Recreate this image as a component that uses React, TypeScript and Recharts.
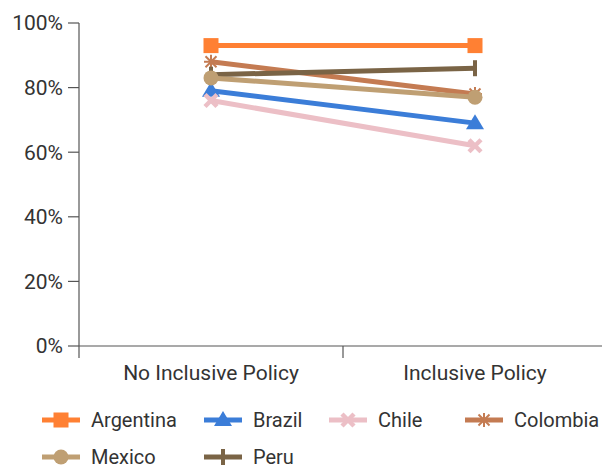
import { Line, LineChart, XAxis, YAxis } from "recharts";

const categories = ["No Inclusive Policy", "Inclusive Policy"];
const argentina = [93, 93];
const brazil = [79, 69];
const chile = [76, 62];
const colombia = [88, 78];
const mexico = [83, 77];
const peru = [84, 86];
const yTicks = [0, 20, 40, 60, 80, 100];

const FONT = "Roboto, 'DejaVu Sans', sans-serif";
const TEXT = "#333";
const AXIS = "#555";

type Marker = "square" | "triangle" | "x" | "star" | "circle" | "bar";

const series: { name: string; values: number[]; color: string; marker: Marker }[] = [
  { name: "Argentina", values: argentina, color: "#ff8033", marker: "square" },
  { name: "Brazil", values: brazil, color: "#3b7dd8", marker: "triangle" },
  { name: "Chile", values: chile, color: "#ecbfc6", marker: "x" },
  { name: "Colombia", values: colombia, color: "#c47b52", marker: "star" },
  { name: "Peru", values: peru, color: "#7a6446", marker: "bar" },
  { name: "Mexico", values: mexico, color: "#bf9f73", marker: "circle" },
];

const legendOrder = ["Argentina", "Brazil", "Chile", "Colombia", "Mexico", "Peru"];

const data = categories.map((c, i) => {
  const row: Record<string, number | string> = { x: i + 0.5, name: c };
  series.forEach((s) => (row[s.name] = s.values[i]));
  return row;
});

function MarkerShape({ cx, cy, color, marker }: { cx: number; cy: number; color: string; marker: Marker }) {
  switch (marker) {
    case "square":
      return <rect x={cx - 7.5} y={cy - 7.5} width={15} height={15} fill={color} />;
    case "triangle":
      return <polygon points={`${cx},${cy - 9} ${cx - 9},${cy + 6} ${cx + 9},${cy + 6}`} fill={color} />;
    case "x":
      return (
        <g stroke={color} strokeWidth={4.5}>
          <line x1={cx - 6} y1={cy - 6} x2={cx + 6} y2={cy + 6} />
          <line x1={cx - 6} y1={cy + 6} x2={cx + 6} y2={cy - 6} />
        </g>
      );
    case "star":
      return (
        <g stroke={color} strokeWidth={2}>
          <line x1={cx} y1={cy - 7} x2={cx} y2={cy + 7} />
          <line x1={cx - 7} y1={cy} x2={cx + 7} y2={cy} />
          <line x1={cx - 5.5} y1={cy - 5.5} x2={cx + 5.5} y2={cy + 5.5} />
          <line x1={cx - 5.5} y1={cy + 5.5} x2={cx + 5.5} y2={cy - 5.5} />
        </g>
      );
    case "circle":
      return <circle cx={cx} cy={cy} r={7.5} fill={color} />;
    case "bar":
      return <rect x={cx - 2} y={cy - 8} width={4} height={16} fill={color} />;
  }
}

function XTick(props: any) {
  const { x, y, payload } = props;
  const v = payload.value as number;
  if (Number.isInteger(v)) {
    return <line x1={x} y1={y} x2={x} y2={y + 12} stroke={AXIS} strokeWidth={1.2} />;
  }
  return (
    <text x={x} y={y + 34} textAnchor="middle" fill={TEXT} fontSize={21} fontFamily={FONT}>
      {categories[Math.floor(v)]}
    </text>
  );
}

export default function App() {
  return (
    <div style={{ position: "fixed", left: 0, top: 0, width: 602, height: 468, overflow: "hidden", background: "#fff" }}>
      <LineChart width={620} height={468} data={data} margin={{ top: 23, right: 13, bottom: 82, left: 0 }}>
        <XAxis
          dataKey="x"
          type="number"
          domain={[0, 2]}
          ticks={[0, 0.5, 1, 1.5, 2]}
          tickLine={false}
          tickSize={0}
          tickMargin={0}
          height={40}
          stroke={AXIS}
          strokeWidth={1.2}
          tick={<XTick />}
          interval={0}
        />
        <YAxis
          domain={[0, 100]}
          ticks={yTicks}
          width={79}
          tickSize={11}
          tickMargin={5}
          stroke={AXIS}
          strokeWidth={1.2}
          tickFormatter={(v) => `${v}%`}
          tick={{ fill: TEXT, fontSize: 21, fontFamily: FONT }}
        />
        {series.map((s) => (
          <Line
            key={s.name}
            dataKey={s.name}
            stroke={s.color}
            strokeWidth={5}
            isAnimationActive={false}
            dot={(p: any) => (
              <MarkerShape key={`${s.name}-${p.index}`} cx={p.cx} cy={p.cy} color={s.color} marker={s.marker} />
            )}
            activeDot={false}
          />
        ))}
      </LineChart>
      <div
        style={{
          position: "absolute",
          left: 42,
          top: 405,
          display: "grid",
          gridTemplateColumns: "162px 125px 136px 140px",
          rowGap: 7,
          fontFamily: FONT,
          fontSize: 20,
          color: TEXT,
        }}
      >
        {legendOrder.map((name) => {
          const s = series.find((d) => d.name === name)!;
          return (
            <div key={name} style={{ display: "flex", alignItems: "center", height: 30 }}>
              <svg width={38} height={20} style={{ marginRight: 11, flexShrink: 0 }}>
                <line x1={0} y1={10} x2={38} y2={10} stroke={s.color} strokeWidth={5} />
                <MarkerShape cx={19} cy={10} color={s.color} marker={s.marker} />
              </svg>
              <span style={{ whiteSpace: "nowrap" }}>{name}</span>
            </div>
          );
        })}
      </div>
    </div>
  );
}
